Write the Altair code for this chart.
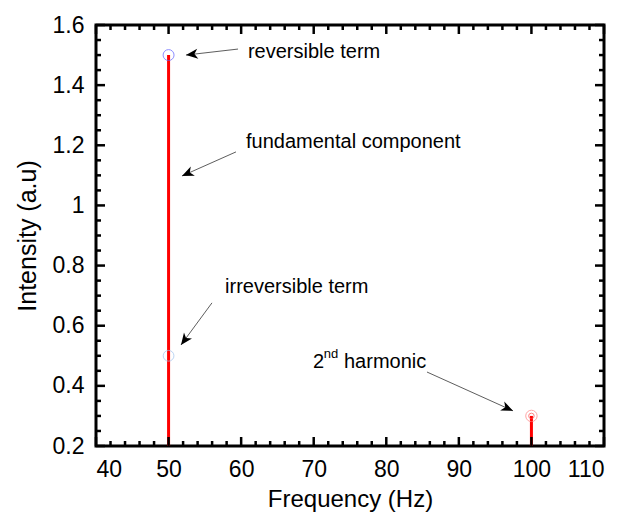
import altair as alt
import pandas as pd
import math

# ---- data ----
stem_freq = [50, 100]
stem_intensity = [1.5, 0.3]
base_level = 0.2

marker_freq = [50, 50, 100, 100]
marker_intensity = [1.5, 0.5, 0.3, 0.3]
marker_color = ["#5e5eff", "#a0c4f0", "#ff8080", "#ff4c4c"]
marker_size = [120, 115, 130, 30]

x_major = [40, 50, 60, 70, 80, 90, 100, 110]
x_minor = [v for v in range(40, 111, 2) if v % 10 != 0]
y_major = [0.2, 0.4, 0.6, 0.8, 1.0, 1.2, 1.4, 1.6]
y_minor = [round(0.2 + 0.05 * i, 2) for i in range(29) if i % 4 != 0]

# annotation text (data coords)
ann_text = ["reversible term", "fundamental component", "irreversible term", "2", "harmonic"]
ann_x = [60.94, 60.67, 57.78, 69.90, 74.17]
ann_y = [1.510, 1.211, 0.729, 0.479, 0.479]
sup_text = ["nd"]
sup_x = [71.40]
sup_y = [0.505]

# arrows: tail -> tip (data coords)
arr_x1 = [59.57, 59.29, 55.98, 85.61]
arr_y1 = [1.520, 1.178, 0.676, 0.446]
arr_x2 = [52.40, 51.85, 51.71, 97.46]
arr_y2 = [1.500, 1.098, 0.536, 0.317]

W, H = 508, 421
XMIN, XMAX, YMIN, YMAX = 40, 110, 0.2, 1.6
FONT = "Liberation Sans"

xs = alt.Scale(domain=[XMIN, XMAX], nice=False, zero=False)
ys = alt.Scale(domain=[YMIN, YMAX], nice=False, zero=False)

def ang(x1, y1, x2, y2):
    dx = (x2 - x1) * W / (XMAX - XMIN)
    dy = -(y2 - y1) * H / (YMAX - YMIN)
    a = math.degrees(math.atan2(dy, dx))
    return a % 360

stems = pd.DataFrame({"f": stem_freq, "i": stem_intensity, "b": [base_level] * len(stem_freq)})
markers = pd.DataFrame({"f": marker_freq, "i": marker_intensity, "c": marker_color, "s": marker_size})
arrows = pd.DataFrame({"x1": arr_x1, "y1": arr_y1, "x2": arr_x2, "y2": arr_y2})
arrows["a"] = [ang(a, b, c, d) for a, b, c, d in zip(arr_x1, arr_y1, arr_x2, arr_y2)]
texts = pd.DataFrame({"t": ann_text, "x": ann_x, "y": ann_y})
sups = pd.DataFrame({"t": sup_text, "x": sup_x, "y": sup_y})

xaxis = alt.Axis(values=x_major, ticks=False, domain=False, grid=False, labelFontSize=23,
                 labelFont=FONT, labelColor="black", labelPadding=12, title="Frequency (Hz)",
                 titleFont=FONT, titleFontSize=24, titleFontWeight="normal", titleColor="black",
                 titlePadding=6)
yaxis = alt.Axis(values=y_major, ticks=False, domain=False, grid=False, labelFontSize=23,
                 labelFont=FONT, labelColor="black", labelPadding=12, title="Intensity (a.u)",
                 titleFont=FONT, titleFontSize=25, titleFontWeight="normal", titleColor="black",
                 titlePadding=12, labelExpr="datum.value == 1 ? '1' : format(datum.value, '.1f')")

base = alt.Chart(stems)

stem_layer = base.mark_rule(color="#ff0000", strokeWidth=3).encode(
    x=alt.X("f:Q", scale=xs, axis=xaxis),
    y=alt.Y("b:Q", scale=ys, axis=yaxis),
    y2="i:Q",
)

marker_layer = alt.Chart(markers).mark_point(filled=False, strokeWidth=1).encode(
    x=alt.X("f:Q", scale=xs),
    y=alt.Y("i:Q", scale=ys),
    color=alt.Color("c:N", scale=None),
    size=alt.Size("s:Q", scale=None),
)

def tick_layer(vals, orient, length):
    df = pd.DataFrame({"v": vals})
    c = alt.Chart(df).mark_rule(color="black", strokeWidth=2.5)
    if orient == "bottom":
        return c.encode(x=alt.X("v:Q", scale=xs), y=alt.value(H), y2=alt.value(H - length))
    if orient == "top":
        return c.encode(x=alt.X("v:Q", scale=xs), y=alt.value(0), y2=alt.value(length))
    if orient == "left":
        return c.encode(y=alt.Y("v:Q", scale=ys), x=alt.value(0), x2=alt.value(length))
    return c.encode(y=alt.Y("v:Q", scale=ys), x=alt.value(W), x2=alt.value(W - length))

ticks = []
for o in ["bottom", "top"]:
    ticks.append(tick_layer(x_major, o, 9))
    ticks.append(tick_layer(x_minor, o, 5))
for o in ["left", "right"]:
    ticks.append(tick_layer(y_major, o, 9))
    ticks.append(tick_layer(y_minor, o, 5))

arrow_lines = alt.Chart(arrows).mark_rule(color="#333333", strokeWidth=0.8).encode(
    x=alt.X("x1:Q", scale=xs), y=alt.Y("y1:Q", scale=ys), x2="x2:Q", y2="y2:Q"
)
arrow_heads = alt.Chart(arrows).mark_point(
    shape="M0,0 L-1,-0.42 L-0.72,0 L-1,0.42 Z", filled=True, color="black", opacity=1, size=560
).encode(
    x=alt.X("x2:Q", scale=xs), y=alt.Y("y2:Q", scale=ys), angle=alt.Angle("a:Q", scale=None)
)

text_layer = alt.Chart(texts).mark_text(
    align="left", baseline="middle", font=FONT, fontSize=20, color="black"
).encode(x=alt.X("x:Q", scale=xs), y=alt.Y("y:Q", scale=ys), text="t:N")

sup_layer = alt.Chart(sups).mark_text(
    align="left", baseline="middle", font=FONT, fontSize=13, color="black"
).encode(x=alt.X("x:Q", scale=xs), y=alt.Y("y:Q", scale=ys), text="t:N")

chart = alt.layer(
    stem_layer, marker_layer, *ticks, arrow_lines, arrow_heads, text_layer, sup_layer
).properties(
    width=W, height=H,
    background="white",
    autosize=alt.AutoSizeParams(type="none"),
    padding={"left": 88, "top": 17, "right": 10, "bottom": 70},
).configure_view(stroke="black", strokeWidth=3)

chart.save("out.html", embed_options={"renderer": "svg", "actions": False})
